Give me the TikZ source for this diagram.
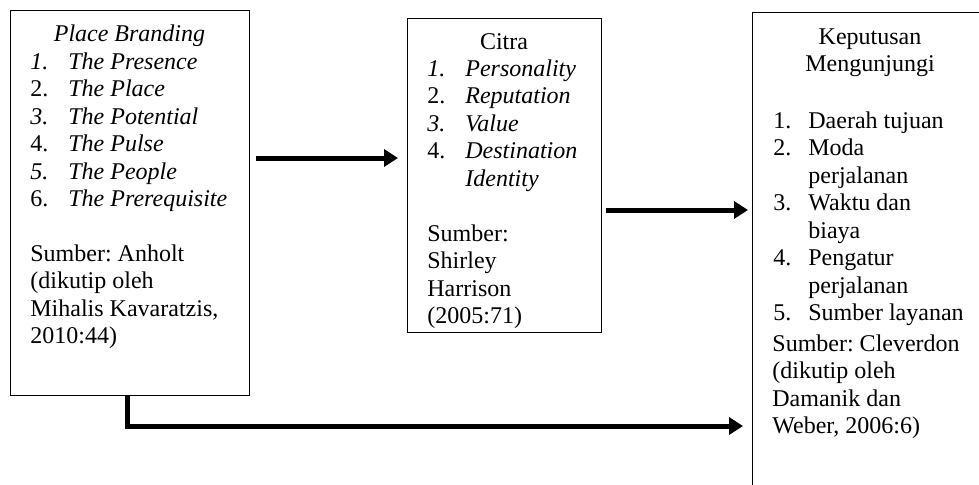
\documentclass[tikz,border=0pt]{standalone}
\usepackage{fontspec}
\setmainfont{Liberation Serif}
\usepackage{array}
\usetikzlibrary{arrows.meta, positioning, calc}
\frenchspacing

\begin{document}
\begin{tikzpicture}[
    x=0.5pt,
    y=-0.5pt,
    font=\fontsize{12}{13.75}\selectfont,
    box/.style={draw=black, line width=0.6pt, inner sep=0pt, anchor=north west},
    txt/.style={inner sep=0pt, anchor=base west},
    head/.style={inner sep=0pt, anchor=base},
    flow/.style={draw=black, line width=2.5pt, -{Triangle[length=7pt, width=8.5pt]}}
]
    \useasboundingbox (0,0) rectangle (979,484);
    \clip (0,0) rectangle (979,484);

    % --- Boxes ---
    \node[box, minimum width=119.5pt, minimum height=192.5pt] (brand) at (10,10) {};
    \node[box, minimum width=97pt, minimum height=157pt] (citra) at (407,18) {};
    \node[box, minimum width=119pt, minimum height=250pt] (putusan) at (752,12) {};

    % --- Place Branding ---
    \node[head] (brandtitle) at (129.5,41) {\textit{Place Branding}};
    \node[txt] (brandlist) at (30,69) {\begin{tabular}[t]{@{}p{19pt}@{}l@{}}
        \textit{1.} & \textit{The Presence}\\
        2. & \textit{The Place}\\
        \textit{3.} & \textit{The Potential}\\
        4. & \textit{The Pulse}\\
        \textit{5.} & \textit{The People}\\
        6. & \textit{The Prerequisite}
    \end{tabular}};
    \node[txt] (brandsrc) at (30,261) {\begin{tabular}[t]{@{}l@{}}
        Sumber: Anholt\\
        (dikutip oleh\\
        Mihalis Kavaratzis,\\
        2010:44)
    \end{tabular}};

    % --- Citra ---
    \node[head] (citratitle) at (504,49) {Citra};
    \node[txt] (citralist) at (427,76) {\begin{tabular}[t]{@{}p{19pt}@{}l@{}}
        \textit{1.} & \textit{Personality}\\
        2. & \textit{Reputation}\\
        \textit{3.} & \textit{Value}\\
        4. & \textit{Destination}\\
         & \textit{Identity}
    \end{tabular}};
    \node[txt] (citrasrc) at (427,241) {\begin{tabular}[t]{@{}l@{}}
        Sumber:\\
        Shirley\\
        Harrison\\
        (2005:71)
    \end{tabular}};

    % --- Keputusan Mengunjungi ---
    \node[head] (putusantitle) at (870,44) {\begin{tabular}[t]{@{}c@{}}
        Keputusan\\
        Mengunjungi
    \end{tabular}};
    \node[txt] (putusanlist) at (773,128) {\begin{tabular}[t]{@{}p{17.5pt}@{}l@{}}
        1. & Daerah tujuan\\
        2. & Moda\\
         & perjalanan\\
        3. & Waktu dan\\
         & biaya\\
        4. & Pengatur\\
         & perjalanan\\
        5. & Sumber layanan
    \end{tabular}};
    \node[txt] (putusansrc) at (772,351) {\begin{tabular}[t]{@{}l@{}}
        Sumber: Cleverdon\\
        (dikutip oleh\\
        Damanik dan\\
        Weber, 2006:6)
    \end{tabular}};

    % --- Arrows ---
    \draw[flow, shorten <=3pt, shorten >=4.5pt] (brand.east |- 0,158) -- (citra.west |- 0,158);
    \draw[flow, shorten <=2pt, shorten >=2pt] (citra.east |- 0,210) -- (putusan.west |- 0,210);
    \draw[flow, shorten >=4.5pt] (127,0 |- brand.south) |- (putusan.west |- 0,426);
\end{tikzpicture}
\end{document}
